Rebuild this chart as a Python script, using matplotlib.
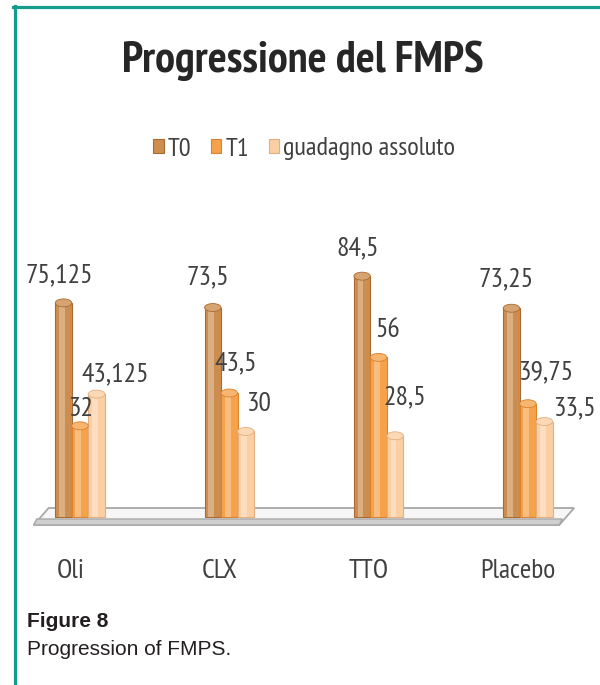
import numpy as np
import matplotlib.pyplot as plt
from matplotlib.patches import Ellipse, Polygon
from matplotlib.lines import Line2D
from matplotlib.colors import to_rgb

# --- data
categories = ['Oli', 'CLX', 'TTO', 'Placebo']
series_names = ['T0', 'T1', 'guadagno assoluto']
t0 = [75.125, 73.5, 84.5, 73.25]
t1 = [32, 43.5, 56, 39.75]
gain = [43.125, 30, 28.5, 33.5]

colors = ['#CC8D4F', '#F5A24B', '#FBCFA4']
edges = ['#A96B31', '#D9822F', '#E3AE80']

# label placement (points, relative to the top of each bar), as Excel laid them out
label_dx = [[-3, -3.6, -3, -3.6], [0.7, 4.3, 6.5, 13.7], [13.7, 10, 7.2, 22.3]]
label_dy = [[15, 16.5, 15, 16], [7.2, 16, 14.4, 17.3], [9.4, 15, 23, 4.3]]

NARROW = ['PT Sans Narrow', 'DejaVu Sans']
SANS = ['Liberation Sans', 'DejaVu Sans']
TEXT = '#404040'


def lighten(col, amount):
    r, g, b = to_rgb(col)
    return (r + (1 - r) * amount, g + (1 - g) * amount, b + (1 - b) * amount)


fig = plt.figure(figsize=(6, 6.85), dpi=100)
ax = fig.add_axes([20 / 600, 145 / 685, 570 / 600, 310 / 685])
ax.set_xlim(-0.402, 3.416)
ax.set_ylim(-8.07, 100.7)
ax.axis('off')

x = np.arange(len(categories))
n = len(categories)
w = 0.1105

# --- floor slab
left, right, skew = -0.31, n - 0.79, 0.1
top_face = Polygon([(left, -2.8), (right, -2.8), (right + skew, 3.16), (left + skew, 3.16)],
                   closed=True, facecolor='#f6f6f6', edgecolor='#a8a8a8', lw=1.3, zorder=1)
front = Polygon([(left, -2.8), (right, -2.8), (right + 0.02, -0.7), (left + 0.02, -0.7)],
                closed=True, facecolor='#cfcfcf', edgecolor='#a8a8a8', lw=1.0, zorder=1)
ax.add_patch(top_face)
ax.add_patch(front)

# --- cylinder bars
handles = []
for k, (vals, name) in enumerate(zip([t0, t1, gain], series_names)):
    xs = x + (k - 1) * w
    col, edge = colors[k], edges[k]
    bars = ax.bar(xs, vals, w, color=col, edgecolor=edge, linewidth=0.8, zorder=3, label=name)
    handles.append(bars)
    ax.bar(xs - w * 0.1, vals, w * 0.35, color=lighten(col, 0.3), linewidth=0, zorder=4)
    for j, (xi, v) in enumerate(zip(xs, vals)):
        ax.add_patch(Ellipse((xi, v), w, 2.8, facecolor=lighten(col, 0.2),
                             edgecolor=edge, lw=0.6, zorder=5))
        ax.annotate(f'{v:g}'.replace('.', ','), (xi, v),
                    xytext=(label_dx[k][j], label_dy[k][j]),
                    textcoords='offset points', ha='center', va='baseline',
                    fontsize=20, family=NARROW, color=TEXT, zorder=6)

for i, cat in enumerate(categories):
    ax.annotate(cat, (i, 0), xytext=(-7, -44), textcoords='offset points',
                ha='center', va='baseline', fontsize=20, family=NARROW, color=TEXT)

# --- title and legend
fig.text(0.505, 1 - 72 / 685, 'Progressione del FMPS', ha='center', va='baseline',
         fontsize=32, fontweight='bold', family=NARROW, color='#262626')
fig.legend(handles=handles, loc='center', bbox_to_anchor=(0.507, 1 - 149 / 685),
           ncol=3, frameon=False, handlelength=0.4, handleheight=0.4,
           handletextpad=0.15, columnspacing=0.75,
           prop={'family': NARROW, 'size': 19}, labelcolor=TEXT)

# --- caption
fig.text(27 / 600, 1 - 627 / 685, 'Figure 8', ha='left', va='baseline',
         fontsize=15, fontweight='bold', family=SANS, color='#231f20')
fig.text(27 / 600, 1 - 655 / 685, 'Progression of FMPS.', ha='left', va='baseline',
         fontsize=15, family=SANS, color='#231f20')

# --- teal frame (top and left)
teal = '#139C8B'
fig.add_artist(Line2D([13 / 600, 1], [1 - 7 / 685, 1 - 7 / 685], color=teal, lw=2.3,
                      transform=fig.transFigure))
fig.add_artist(Line2D([14.5 / 600, 14.5 / 600], [0, 1 - 5.5 / 685], color=teal, lw=2.3,
                      transform=fig.transFigure))

fig.savefig('out.png', dpi=100)
